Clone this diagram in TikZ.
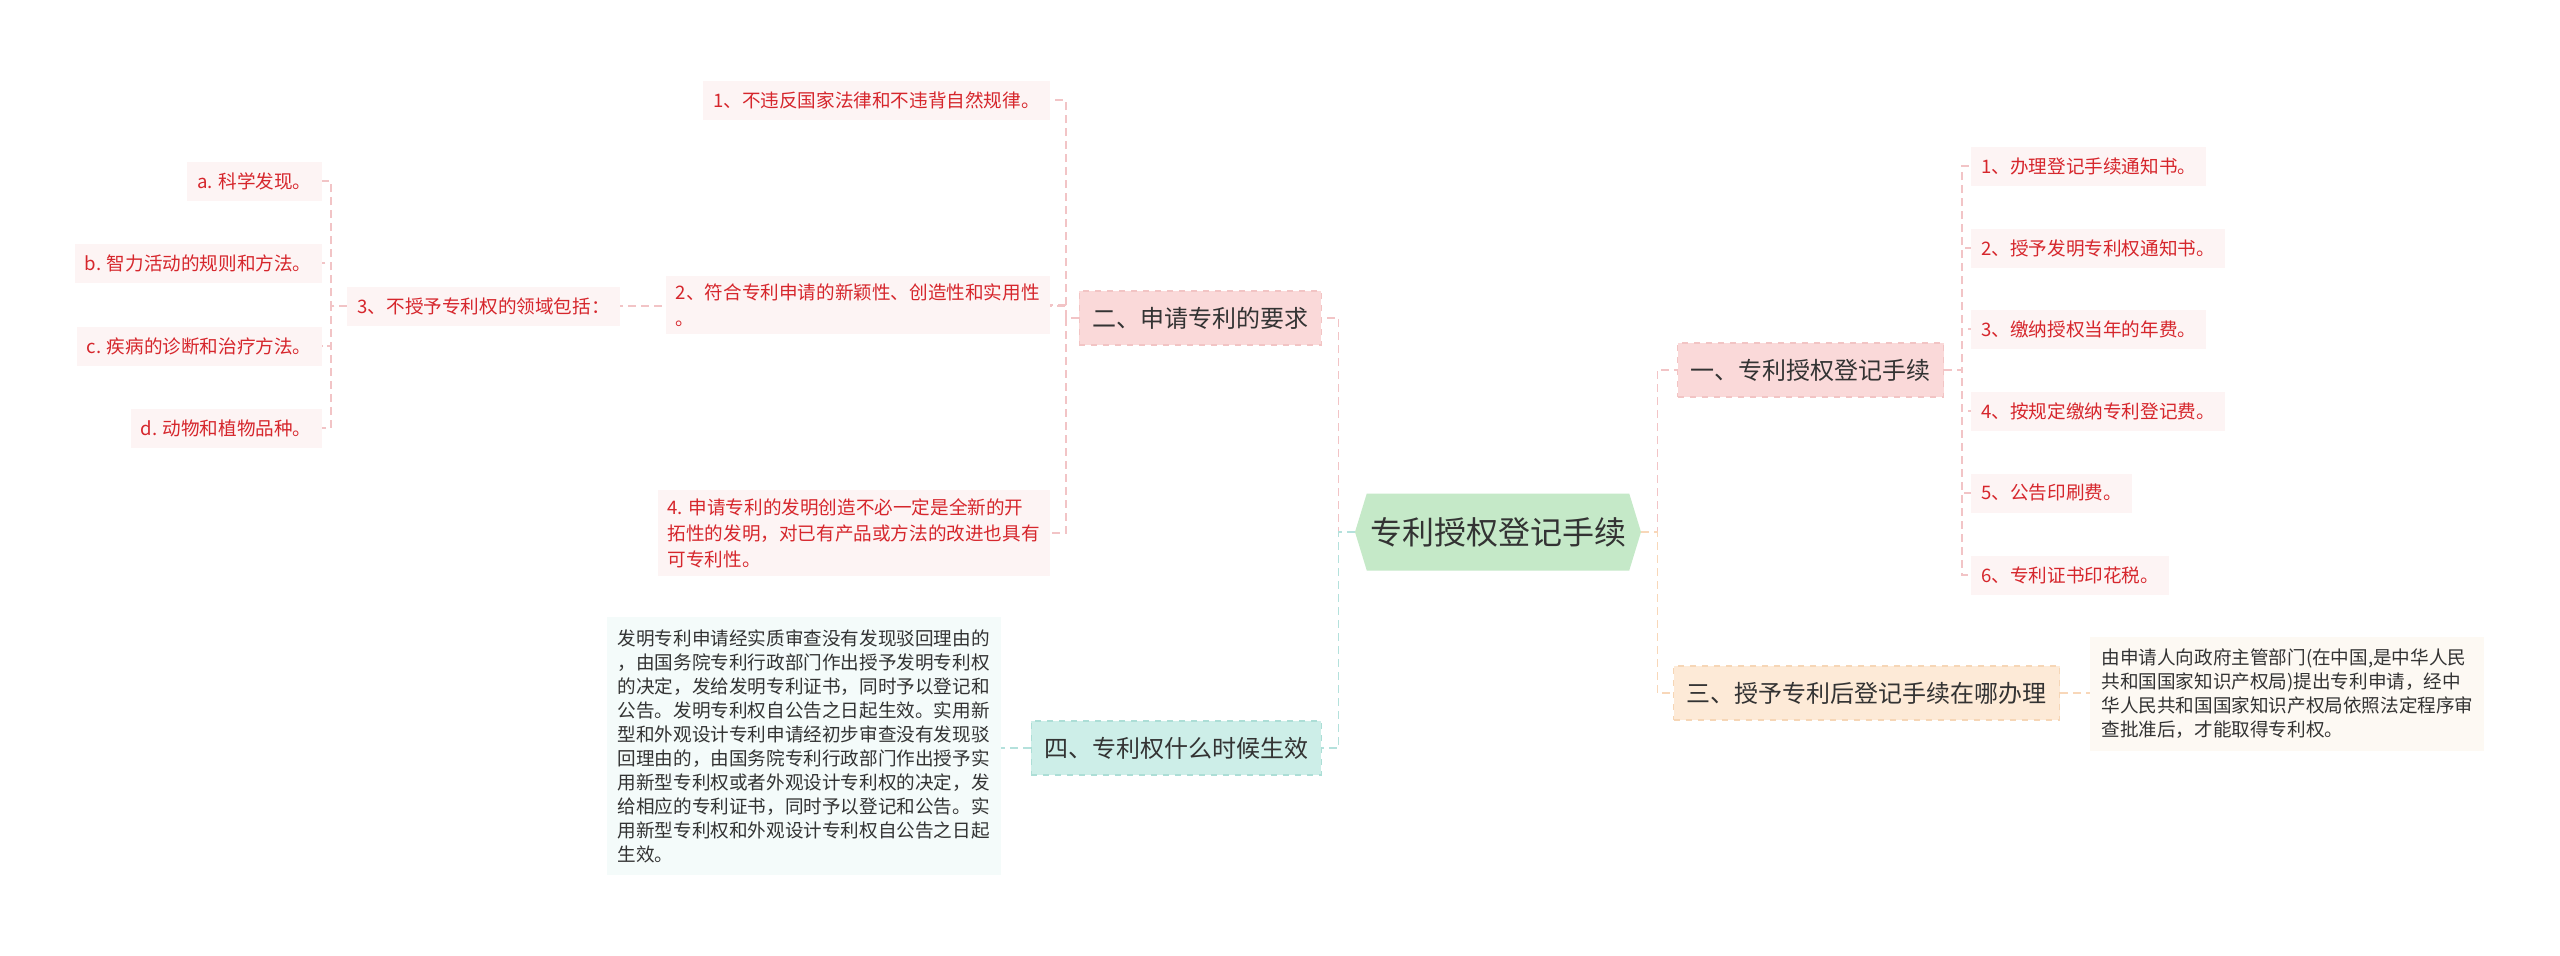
\documentclass[tikz,border=0pt]{standalone}
\usepackage{fontspec}
\newfontfamily\cjk{Noto Sans CJK SC}
\usetikzlibrary{shapes.symbols, positioning, backgrounds}
\definecolor{cRoot}{RGB}{197, 233, 200}
\definecolor{cPink}{RGB}{250, 217, 217}
\definecolor{bPink}{RGB}{242, 196, 196}
\definecolor{cPeach}{RGB}{253, 234, 215}
\definecolor{bPeach}{RGB}{246, 214, 182}
\definecolor{cTeal}{RGB}{205, 238, 232}
\definecolor{bTeal}{RGB}{172, 222, 214}
\definecolor{cLeafPink}{RGB}{253, 244, 244}
\definecolor{cLeafPeach}{RGB}{253, 249, 243}
\definecolor{cLeafTeal}{RGB}{244, 251, 250}
\definecolor{lPink}{RGB}{242, 196, 198}
\definecolor{lTeal}{RGB}{180, 225, 220}
\definecolor{lPeach}{RGB}{248, 215, 185}
\definecolor{tRed}{RGB}{214, 38, 44}
\definecolor{tDark}{RGB}{51, 51, 51}

\begin{document}
\begin{tikzpicture}[
    x=0.5pt, y=-0.5pt,
    font=\cjk,
    root/.style={
        signal, signal to=west and east, signal pointer angle=146,
        fill=cRoot, text=tDark,
        font=\cjk\fontsize{16}{19}\selectfont,
        minimum width=143pt, minimum height=38.5pt, inner xsep=1pt
    },
    main/.style={
        fill=c#1, draw=b#1, dashed, line width=0.6pt,
        text=tDark, font=\cjk\fontsize{12}{14}\selectfont,
        minimum height=27pt, inner xsep=6.5pt
    },
    leaf/.style={
        fill=#1, text=tRed, font=\cjk\fontsize{9.3}{13}\selectfont,
        align=left, minimum height=19.5pt, inner xsep=5pt, inner ysep=4pt
    },
    note/.style={
        fill=#1, text=tDark, font=\cjk\fontsize{9.3}{12}\selectfont,
        align=left, inner xsep=5.5pt, inner ysep=6pt
    },
    link/.style={draw=#1, dash pattern=on 4pt off 2.5pt, line width=0.8pt}
]

\node[root] (root) at (1498, 532) {专利授权登记手续};

% Branch: 申请专利的要求
\node[main=Pink, anchor=east] (req) at (1322, 318) {二、申请专利的要求};
\node[leaf=cLeafPink, anchor=east] (req1) at (1050, 100) {1、不违反国家法律和不违背自然规律。};
\node[leaf=cLeafPink, anchor=east] (req2) at (1050, 305) {2、符合专利申请的新颖性、创造性和实用性\\。};
\node[leaf=cLeafPink, anchor=east] (req3) at (620, 306) {3、不授予专利权的领域包括：};
\node[leaf=cLeafPink, anchor=east] (req4) at (1050, 533) {4. 申请专利的发明创造不必一定是全新的开\\拓性的发明，对已有产品或方法的改进也具有\\可专利性。};

\node[leaf=cLeafPink, anchor=east] (req3a) at (322, 181) {a. 科学发现。};
\node[leaf=cLeafPink, anchor=east] (req3b) at (322, 263) {b. 智力活动的规则和方法。};
\node[leaf=cLeafPink, anchor=east] (req3c) at (322, 346) {c. 疾病的诊断和治疗方法。};
\node[leaf=cLeafPink, anchor=east] (req3d) at (322, 428) {d. 动物和植物品种。};

% Branch: 专利权什么时候生效
\node[main=Teal, anchor=east] (eff) at (1322, 748) {四、专利权什么时候生效};
\node[note=cLeafTeal, anchor=east] (eff1) at (1001, 746) {发明专利申请经实质审查没有发现驳回理由的\\，由国务院专利行政部门作出授予发明专利权\\的决定，发给发明专利证书，同时予以登记和\\公告。发明专利权自公告之日起生效。实用新\\型和外观设计专利申请经初步审查没有发现驳\\回理由的，由国务院专利行政部门作出授予实\\用新型专利权或者外观设计专利权的决定，发\\给相应的专利证书，同时予以登记和公告。实\\用新型专利权和外观设计专利权自公告之日起\\生效。};

% Branch: 专利授权登记手续
\node[main=Pink, anchor=west] (reg) at (1677, 370) {一、专利授权登记手续};
\node[leaf=cLeafPink, anchor=west] (reg1) at (1971, 166) {1、办理登记手续通知书。};
\node[leaf=cLeafPink, anchor=west] (reg2) at (1971, 248) {2、授予发明专利权通知书。};
\node[leaf=cLeafPink, anchor=west] (reg3) at (1971, 329) {3、缴纳授权当年的年费。};
\node[leaf=cLeafPink, anchor=west] (reg4) at (1971, 411) {4、按规定缴纳专利登记费。};
\node[leaf=cLeafPink, anchor=west] (reg5) at (1971, 493) {5、公告印刷费。};
\node[leaf=cLeafPink, anchor=west] (reg6) at (1971, 575) {6、专利证书印花税。};

% Branch: 授予专利后登记手续在哪办理
\node[main=Peach, anchor=west] (where) at (1673, 693) {三、授予专利后登记手续在哪办理};
\node[note=cLeafPeach, anchor=west] (where1) at (2090, 694) {由申请人向政府主管部门(在中国,是中华人民\\共和国国家知识产权局)提出专利申请，经中\\华人民共和国国家知识产权局依照法定程序审\\查批准后，才能取得专利权。};

\begin{scope}[on background layer]
\fill[white] (0, 0) rectangle (2560, 955);
\draw[link=lPink] (root.west) -- ++(-16, 0) |- (req.east);
\draw[link=lTeal] (root.west) -- ++(-16, 0) |- (eff.east);
\draw[link=lPink] (root.east) -- ++(16, 0) |- (reg.west);
\draw[link=lPeach] (root.east) -- ++(16, 0) |- (where.west);

\draw[link=lPink] (req.west) -- ++(-13, 0) |- (req1.east);
\draw[link=lPink] (req.west) -- ++(-13, 0) |- (req2.east);
\draw[link=lPink] (req.west) -- ++(-13, 0) |- (req3.east);
\draw[link=lPink] (req.west) -- ++(-13, 0) |- (req4.east);

\draw[link=lPink] (req3.west) -- ++(-16, 0) |- (req3a.east);
\draw[link=lPink] (req3.west) -- ++(-16, 0) |- (req3b.east);
\draw[link=lPink] (req3.west) -- ++(-16, 0) |- (req3c.east);
\draw[link=lPink] (req3.west) -- ++(-16, 0) |- (req3d.east);

\draw[link=lPink] (reg.east) -- ++(18, 0) |- (reg1.west);
\draw[link=lPink] (reg.east) -- ++(18, 0) |- (reg2.west);
\draw[link=lPink] (reg.east) -- ++(18, 0) |- (reg3.west);
\draw[link=lPink] (reg.east) -- ++(18, 0) |- (reg4.west);
\draw[link=lPink] (reg.east) -- ++(18, 0) |- (reg5.west);
\draw[link=lPink] (reg.east) -- ++(18, 0) |- (reg6.west);

\draw[link=lPeach] (where.east) -- (where.east -| where1.west);
\draw[link=lTeal] (eff.west) -- (eff.west -| eff1.east);
\end{scope}

\useasboundingbox (0, 0) rectangle (2560, 955);
\end{tikzpicture}
\end{document}
